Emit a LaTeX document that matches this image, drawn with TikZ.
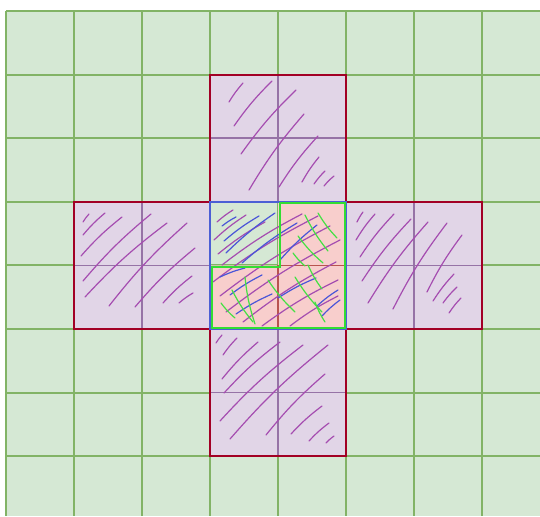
\documentclass[tikz,border=0pt]{standalone}
\definecolor{bggreen}{HTML}{D5E8D4}
\definecolor{gridgreen}{HTML}{82B366}
\definecolor{purfill}{HTML}{E1D5E7}
\definecolor{purline}{HTML}{9673A6}
\definecolor{redb}{HTML}{A20025}
\definecolor{pinkfill}{HTML}{F8CECC}
\definecolor{redline}{HTML}{B85450}
\definecolor{blueb}{HTML}{4C5FD5}
\definecolor{brightgreen}{HTML}{33DD33}
\definecolor{hatchpur}{HTML}{A54DB0}
\definecolor{hatchblue}{HTML}{4A55D8}
\definecolor{hatchgreen}{HTML}{44E044}
\tikzset{
  gridln/.style={draw=gridgreen, line width=2pt},
  armln/.style={draw=purline, line width=1.6pt},
  armbox/.style={draw=redb, line width=2pt, fill=purfill},
  hp/.style={draw=hatchpur, line width=1.2pt, line cap=round},
  hb/.style={draw=hatchblue, line width=1.2pt, line cap=round},
  hg/.style={draw=hatchgreen, line width=1.2pt, line cap=round},
}
\begin{document}
\begin{tikzpicture}[x=1pt,y=-1pt]
\useasboundingbox (0,0) rectangle (540,516);
\fill[white] (0,0) rectangle (540,516);
\fill[bggreen] (6,11) rectangle (540,516);
% grid
\foreach \x in {6,74,142,210,278,346,414,482} \draw[gridln] (\x,11) -- (\x,516);
\foreach \y in {11,74.6,138.2,201.8,265.4,329,392.6,456.2} \draw[gridln] (6,\y) -- (540,\y);
% arms
\fill[purfill] (210,74.6) rectangle (346,201.8);
\fill[purfill] (74,201.8) rectangle (210,329);
\fill[purfill] (346,201.8) rectangle (482,329);
\fill[purfill] (210,329) rectangle (346,456.2);
\draw[armln] (278,74.6) -- (278,201.8) (210,138.2) -- (346,138.2);
\draw[armln] (142,201.8) -- (142,329) (74,265.4) -- (210,265.4);
\draw[armln] (414,201.8) -- (414,329) (346,265.4) -- (482,265.4);
\draw[armln] (278,329) -- (278,456.2) (210,392.6) -- (346,392.6);
% center
\fill[pinkfill] (278,201.8) -- (346,201.8) -- (346,329) -- (210,329) -- (210,265.4) -- (278,265.4) -- cycle;
\draw[draw=redline, line width=1.6pt] (278,265.4) -- (278,329) (278,265.4) -- (346,265.4);
% hatches top arm
\foreach \a/\b/\c/\d in {229/102/243/83, 234/126/272/81, 241/154/296/90, 249/190/304/114, 279/187/318/136, 302/182/319/157, 314/184/325/171, 324/186/334/176}
  \draw[hp] (\a,\b) to[bend left=5] (\c,\d);
% left arm
\foreach \a/\b/\c/\d in {83/222/89/214, 83/235/105/213, 81/256/122/217, 83/281/151/214, 85/297/167/223, 109/306/187/223, 135/307/195/248, 163/303/192/276, 179/303/193/293}
  \draw[hp] (\a,\b) to[bend left=5] (\c,\d);
% right arm
\foreach \a/\b/\c/\d in {357/222/363/212, 356/240/375/214, 360/257/394/214, 362/281/411/219, 368/303/428/222, 393/309/447/223, 427/292/462/235, 433/301/454/274, 443/303/457/287, 449/313/461/298}
  \draw[hp] (\a,\b) to[bend left=5] (\c,\d);
% bottom arm
\foreach \a/\b/\c/\d in {216/343/222/335, 223/355/237/338, 222/379/258/342, 224/393/280/342, 220/421/303/345, 230/439/328/345, 266/435/325/374, 291/434/322/406, 309/441/329/423, 326/443/334/436}
  \draw[hp] (\a,\b) to[bend left=5] (\c,\d);
% center hatches
\foreach \a/\b/\c/\d in {217/222/233/210, 214/240/246/215, 218/254/265/222, 222/265/302/214, 213/282/318/216, 220/296/330/226, 226/312/340/240, 243/322/336/262, 262/326/338/280, 290/326/338/296}
  \draw[hp] (\a,\b) to[bend left=5] (\c,\d);
\foreach \a/\b/\c/\d in {222/226/236/217, 224/241/259/216, 226/253/275/213, 242/263/297/223, 280/260/317/225, 220/277/245/268, 230/295/262/275, 236/314/272/294, 278/298/316/278, 317/306/338/290, 322/316/340/300}
  \draw[hb] (\a,\b) to[bend left=5] (\c,\d);
\foreach \a/\b/\c/\d in {318/213/337/238, 305/215/328/251, 298/236/323/263, 293/253/305/266, 308/265/322/289, 295/277/322/312, 268/280/295/312, 315/302/325/322, 245/277/255/324, 232/290/253/322, 221/303/235/318}
  \draw[hg] (\a,\b) to[bend right=6] (\c,\d);
% borders
\draw[draw=redb, line width=2pt] (210,74.6) rectangle (346,201.8);
\draw[draw=redb, line width=2pt] (74,201.8) rectangle (210,329);
\draw[draw=redb, line width=2pt] (346,201.8) rectangle (482,329);
\draw[draw=redb, line width=2pt] (210,329) rectangle (346,456.2);
\draw[draw=blueb, line width=2pt] (210,201.8) rectangle (346,329);
\draw[draw=brightgreen, line width=2pt] (279.5,203.3) -- (344.5,203.3) -- (344.5,327.5) -- (211.5,327.5) -- (211.5,266.5) -- (279.5,266.5) -- cycle;
\end{tikzpicture}
\end{document}
